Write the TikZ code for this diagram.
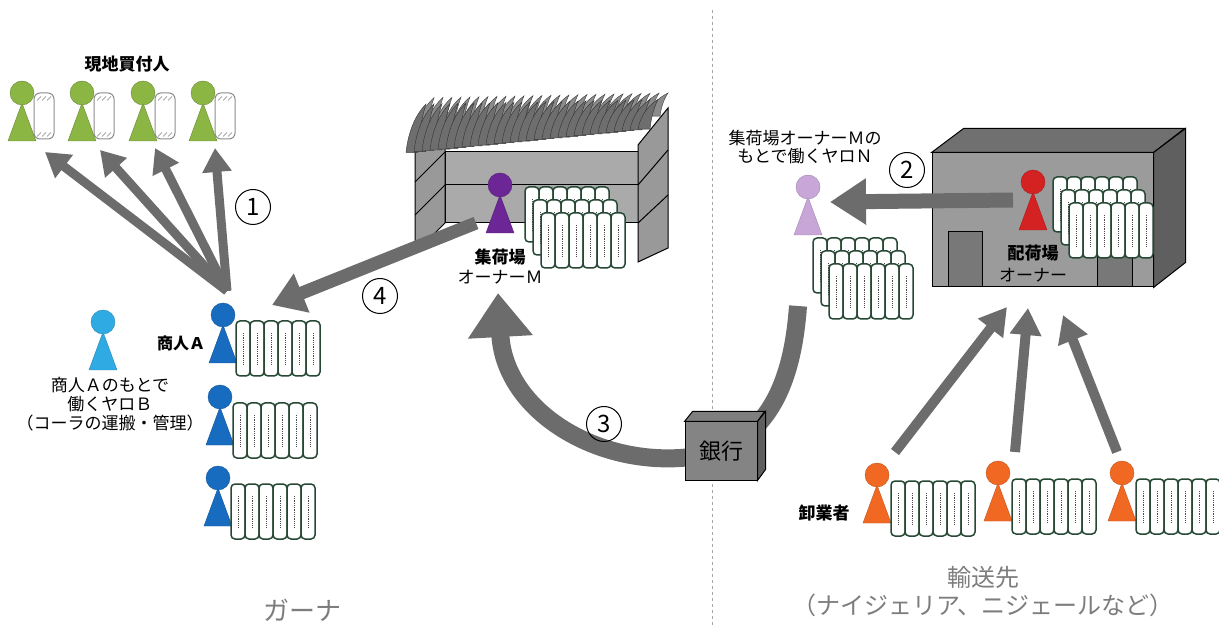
\documentclass[tikz,border=0pt]{standalone}
\usepackage{fontspec}
\setmainfont{Noto Sans CJK JP}
\usepackage{tikz}
\usetikzlibrary{arrows.meta,positioning,shapes.geometric}

\definecolor{FlowGray}{RGB}{108,108,108}
\definecolor{SackGreen}{RGB}{38,72,52}
\definecolor{BuyerGreen}{RGB}{140,182,68}
\definecolor{TraderBlue}{RGB}{24,108,192}
\definecolor{HelperBlue}{RGB}{48,170,226}
\definecolor{OwnerPurple}{RGB}{108,38,150}
\definecolor{HelperLilac}{RGB}{200,166,216}
\definecolor{OwnerRed}{RGB}{212,34,34}
\definecolor{SellerOrange}{RGB}{240,104,34}
\definecolor{PlaceGray}{RGB}{125,125,125}
\definecolor{WallGray}{RGB}{170,170,170}
\definecolor{RoofGray}{RGB}{110,110,110}
\definecolor{DepotFront}{RGB}{155,155,155}
\definecolor{DepotTop}{RGB}{112,112,112}
\definecolor{DepotSide}{RGB}{95,95,95}
\definecolor{DoorGray}{RGB}{120,120,120}

\tikzset{
  person/.pic={
    \path[pic actions] (-14,48) -- (0,10) -- (14,48) -- cycle;
    \path[pic actions] (0,0) circle (12pt);
  },
  sack/.pic={
    \draw[fill=white, draw=SackGreen, line width=1.5pt, rounded corners=4pt] (-7,0) rectangle (7,55);
    \draw[densely dotted, line width=0.8pt, black!70] (0,12) -- (0,43);
  },
  sackrow/.pic={
    \foreach \k in {0,...,5} \pic at (14*\k,0) {sack};
  },
  sackpile/.pic={
    \pic at (0,0) {sackrow};
    \pic at (8,13) {sackrow};
    \pic at (16,26) {sackrow};
  },
  blade/.pic={
    \filldraw[pic actions] (0,0) .. controls (2,-18) and (8,-36) .. (20,-48)
      .. controls (15,-32) and (13,-16) .. (12,0) -- cycle;
  },
  flow/.style={draw=FlowGray, line width=9pt, -{Triangle[length=24pt,width=28pt]}},
  numcircle/.style={circle, draw, line width=1pt, minimum size=35pt, inner sep=0pt,
    font=\fontsize{24}{24}\selectfont},
  tag/.style={font=\fontsize{17}{20}\selectfont, align=center, inner sep=1pt},
  place/.style={font=\fontsize{24}{28}\selectfont, text=PlaceGray, align=center},
  buyersack/.style={draw=black!45, line width=1pt, rounded corners=6pt, fill=white,
    minimum width=20pt, minimum height=46pt, inner sep=0pt},
}

\begin{document}
\begin{tikzpicture}[x=1pt, y=-1pt]
\useasboundingbox (0,0) rectangle (1219,628);
\fill[white] (0,0) rectangle (1219,628);

% border between Ghana and the destination countries
\draw[dashed, line width=0.8pt, gray!70] (712,10) -- (712,628);

% ---- local buyers
\node[tag, font=\bfseries\fontsize{17}{20}\selectfont] (buyers) at (127,64) {現地買付人};
\foreach \i/\x in {1/22, 2/82, 3/143, 4/203} {
  \pic[fill=BuyerGreen, draw=BuyerGreen!75!black] at (\x,93) {person};
  \node[buyersack] (bsack\i) at (\x+22,116) {};
  \foreach \d in {-5,0,5} {
    \draw[black!50, line width=0.7pt] ([shift={(\d-2,8)}]bsack\i.north) -- ++(4,-4)
      ([shift={(\d-2,-3)}]bsack\i.south) -- ++(4,-4);
  }
}

% (1) trader A sells on to the buyers
\coordinate (fan) at (227,291);
\foreach \i/\x/\y in {1/45/152, 2/100/150, 3/155/148, 4/215/148} {
  \coordinate (to\i) at (\x,\y);
  \draw[flow] (fan) -- (to\i);
}
\node[numcircle] (n1) at (253,207) {1};

% ---- traders
\coordinate (trader1) at (223,315);
\coordinate (trader2) at (220,397);
\coordinate (trader3) at (218,478);
\foreach \t in {1,2,3} {
  \pic[fill=TraderBlue, draw=TraderBlue!80!black] at (trader\t) {person};
  \pic at ([shift={(20,6)}]trader\t) {sackrow};
}
\node[tag, font=\bfseries\fontsize{16}{18}\selectfont] (traderA) at (181,343) {商人Ａ};

\coordinate (helperB) at (103,322);
\pic[fill=HelperBlue, draw=HelperBlue!80!black] at (helperB) {person};
\node[tag, font=\fontsize{17}{19}\selectfont] (helperBtext) at (110,404)
  {商人Ａのもとで\\働くヤロＢ\\（コーラの運搬・管理）};

% ---- collecting yard with thatched roof
\fill[WallGray] (445,152) rectangle (638,223);
\draw[line width=1pt] (445,152) rectangle (638,223);
\draw[line width=1pt] (445,185) -- (638,185);
\filldraw[fill=WallGray!90!black, line width=1pt] (415,150) -- (445,135) -- (445,223) -- (415,253) -- cycle;
\draw[line width=1pt] (445,152) -- (415,182) (445,185) -- (415,215);
\filldraw[fill=WallGray!90!black, line width=1pt] (638,145) -- (668,108) -- (668,248) -- (638,262) -- cycle;
\draw[line width=1pt] (638,185) -- (668,150) (638,223) -- (668,195);
\foreach \x in {414,423,...,648} {
  \pgfmathsetmacro\yb{140-24*(\x-410)/240}
  \pgfmathsetmacro\ys{0.88-0.4*(\x-410)/240}
  \pic[fill=RoofGray!80!white, draw=black!75, line width=0.4pt, yscale=\ys] at (\x,\yb) {blade};
}
\foreach \x in {406,414,...,644} {
  \pgfmathsetmacro\yb{152-24*(\x-410)/240}
  \pgfmathsetmacro\ys{1-0.4*(\x-410)/240}
  \pic[fill=RoofGray, draw=black!80, line width=0.4pt, yscale=\ys] at (\x,\yb) {blade};
}

\coordinate (ownerM) at (500,185);
\pic[fill=OwnerPurple, draw=OwnerPurple!80!black] at (ownerM) {person};
\pic at (532,187) {sackpile};
\node[tag] (ownerMtext) at (500,267) {\textbf{集荷場}\\オーナーＭ};

% (4) owner M pays trader A
\coordinate (from4) at (476,223);
\coordinate (to4) at (272,305);
\draw[flow, line width=13pt, -{Triangle[length=32pt,width=40pt]}] (from4) -- (to4);
\node[numcircle] (n4) at (380,296) {4};

% ---- distribution depot
\node[draw, line width=1pt, fill=DepotFront, minimum width=221pt, minimum height=134pt,
  inner sep=0pt] (depot) at (1042.5,220) {};
\filldraw[fill=DepotTop, line width=1pt] (depot.north west) -- ++(32,-24) -- ++(221,0)
  -- (depot.north east) -- cycle;
\filldraw[fill=DepotSide, line width=1pt] (depot.north east) -- ++(32,-24) -- ++(0,134)
  -- (depot.south east) -- cycle;
\filldraw[fill=DoorGray, line width=1pt] (948,232) rectangle (982,287);
\filldraw[fill=DoorGray, line width=1pt] (1097,247) rectangle (1132,287);

\coordinate (ownerD) at (1033,182);
\pic[fill=OwnerRed, draw=OwnerRed!80!black] at (ownerD) {person};
\pic at (1060,177) {sackpile};
\node[tag, font=\fontsize{17}{22}\selectfont] (ownerDtext) at (1033,264) {\textbf{配荷場}\\オーナー};

% ---- helper N of owner M
\coordinate (helperN) at (808,187);
\pic[fill=HelperLilac, draw=HelperLilac!80!black] at (helperN) {person};
\pic at (820,238) {sackpile};
\node[tag, font=\fontsize{17}{18}\selectfont] (helperNtext) at (805,147)
  {集荷場オーナーＭの\\もとで働くヤロＮ};

% (2) depot owner hands the kola to helper N
\coordinate (from2) at (1013,200);
\coordinate (to2) at (830,202);
\draw[flow, line width=15pt, -{Triangle[length=36pt,width=44pt]}] (from2) -- (to2);
\node[numcircle] (n2) at (907,170) {2};

% (3) payment through the bank back to owner M
\coordinate (bank) at (721,451);
\coordinate (from3) at (798,306);
\coordinate (to3) at (498,293);
\draw[draw=FlowGray, line width=18pt] (from3) .. controls (792,390) and (765,430) .. (bank);
\draw[draw=FlowGray, line width=18pt, -{Triangle[length=44pt,width=62pt]}]
  (bank) .. controls (620,480) and (505,420) .. (to3);
\node[draw, line width=1pt, fill=DepotFront!85!black, minimum width=72pt, minimum height=58pt,
  inner sep=0pt, font=\fontsize{22}{22}\selectfont] (bankfront) at (bank) {銀行};
\filldraw[fill=DepotTop!90!white, line width=1pt] (bankfront.north west) -- ++(8,-10) -- ++(72,0)
  -- (bankfront.north east) -- cycle;
\filldraw[fill=DepotSide, line width=1pt] (bankfront.north east) -- ++(8,-10) -- ++(0,58)
  -- (bankfront.south east) -- cycle;
\node[numcircle] (n3) at (604,424) {3};

% ---- wholesalers
\foreach \w/\x/\y in {1/877/475, 2/998/473, 3/1122/473} {
  \coordinate (seller\w) at (\x,\y);
  \pic[fill=SellerOrange, draw=SellerOrange!80!black] at (seller\w) {person};
  \pic at ([shift={(21,6)}]seller\w) {sackrow};
}
\node[tag, font=\bfseries\fontsize{17}{20}\selectfont] (sellers) at (824,513) {卸業者};
\foreach \w/\fx/\tx/\ty in {1/895/1007/307, 2/1015/1028/308, 3/1117/1063/315} {
  \coordinate (up\w) at (\fx,452);
  \coordinate (in\w) at (\tx,\ty);
  \draw[flow, line width=10pt, -{Triangle[length=27pt,width=30pt]}] (up\w) -- (in\w);
}

% ---- country names
\node[place, font=\fontsize{26}{28}\selectfont] (ghana) at (302,610) {ガーナ};
\node[place] (dest) at (983,592) {輸送先\\（ナイジェリア、ニジェールなど）};
\end{tikzpicture}
\end{document}
